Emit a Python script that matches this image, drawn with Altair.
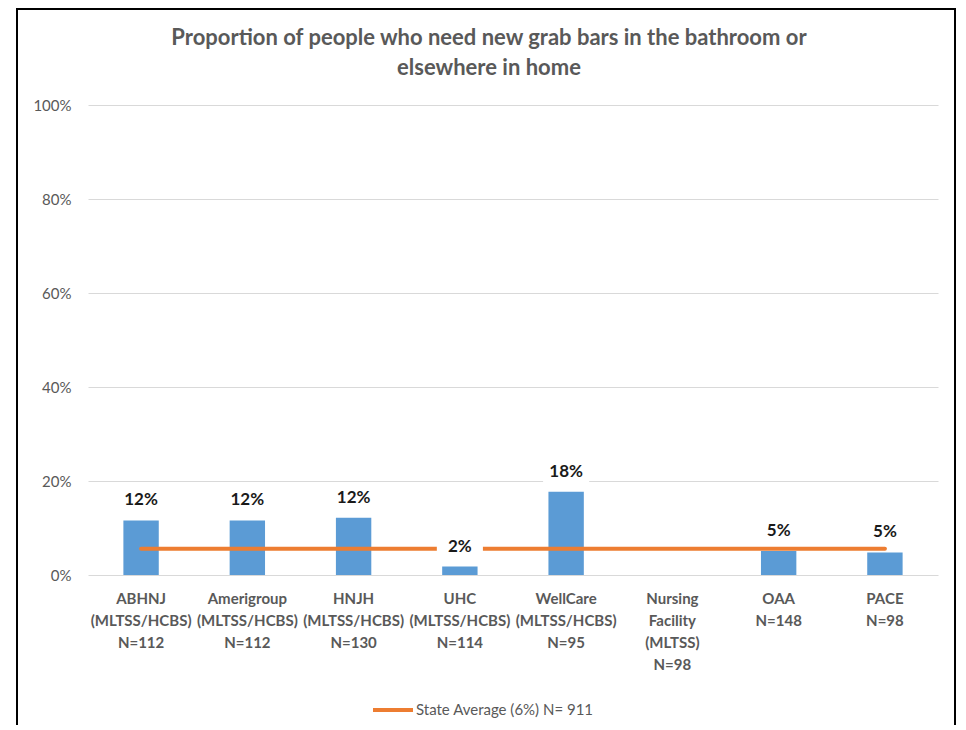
import altair as alt
import pandas as pd

categories = [
    "ABHNJ|(MLTSS/HCBS)|N=112",
    "Amerigroup|(MLTSS/HCBS)|N=112",
    "HNJH|(MLTSS/HCBS)|N=130",
    "UHC|(MLTSS/HCBS)|N=114",
    "WellCare|(MLTSS/HCBS)|N=95",
    "Nursing|Facility|(MLTSS)|N=98",
    "OAA|N=148",
    "PACE|N=98",
]
values = [0.116, 0.116, 0.122, 0.018, 0.177, 0.0, 0.051, 0.048]
state_avg = 0.056
avg_label = "State Average (6%) N= 911"
title_lines = ["Proportion of people who need new grab bars in the bathroom or", "elsewhere in home"]

df = pd.DataFrame({"cat": categories, "val": values})
df["avg"] = state_avg
df["series"] = avg_label

FONT = "Lato"
GREY = "#595959"

xenc = alt.X(
    "cat:N",
    sort=categories,
    scale=alt.Scale(paddingInner=0.667, paddingOuter=0.333),
    axis=alt.Axis(
        title=None, labelAngle=0, labelExpr="split(datum.value, '|')",
        labelLineHeight=22, labelFont=FONT, labelFontSize=15, labelFontWeight="bold",
        labelColor=GREY, labelPadding=16, domain=False, ticks=False,
        labelOverlap=False, labelLimit=300, labelBaseline="top",
    ),
)

base = alt.Chart(df)

bars = base.mark_bar(color="#5B9BD5").encode(
    x=xenc,
    y=alt.Y(
        "val:Q",
        scale=alt.Scale(domain=[0, 1], nice=False),
        axis=alt.Axis(
            title=None, values=[0, 0.2, 0.4, 0.6, 0.8, 1.0], format=".0%",
            labelFont=FONT, labelFontSize=15, labelColor=GREY, labelPadding=17,
            domain=False, ticks=False, gridColor="#D9D9D9", gridWidth=1,
        ),
    ),
)

line = base.mark_line(strokeWidth=4, strokeCap="round").encode(
    x=alt.X("cat:N", sort=categories),
    y="avg:Q",
    color=alt.Color(
        "series:N",
        scale=alt.Scale(range=["#ED7D31"]),
        legend=alt.Legend(
            title=None, orient="none", legendX=283, legendY=583, padding=0,
            symbolType="stroke", symbolSize=1600, symbolStrokeWidth=4,
            labelFont=FONT, labelFontSize=15, labelColor=GREY, labelOffset=1,
            labelLimit=400,
        ),
    ),
)

lab_df = base.transform_filter("datum.val > 0")

boxes = lab_df.mark_point(
    shape="M-1.92,-1L1.92,-1L1.92,1L-1.92,1Z", size=576, filled=True,
    fill="white", opacity=1, strokeWidth=0, yOffset=-20,
).encode(x=alt.X("cat:N", sort=categories), y="val:Q")

texts = lab_df.mark_text(
    font=FONT, fontSize=17, fontWeight="bold", color="#1a1a1a",
    baseline="middle", yOffset=-20,
).encode(x=alt.X("cat:N", sort=categories), y="val:Q", text=alt.Text("val:Q", format=".0%"))

frame = alt.Chart(pd.DataFrame({"a": [0]})).mark_rect(
    filled=False, stroke="black", strokeWidth=2
).encode(
    x=alt.value(-71), x2=alt.value(867), y=alt.value(-96), y2=alt.value(700)
)

title = alt.Chart(pd.DataFrame({"a": [0]})).mark_text(
    text=title_lines, font=FONT, fontSize=22, fontWeight="bold", color=GREY,
    lineHeight=30, align="center", baseline="middle",
).encode(x=alt.value(401), y=alt.value(-67))

chart = alt.layer(bars, line, boxes, texts, frame, title).properties(
    width=850, height=470,
    autosize=alt.AutoSizeParams(type="none"),
    padding={"left": 80, "top": 97, "right": 20, "bottom": 150},
).configure_view(stroke=None)

chart.save("out.html", embed_options={"renderer": "svg", "actions": False})
